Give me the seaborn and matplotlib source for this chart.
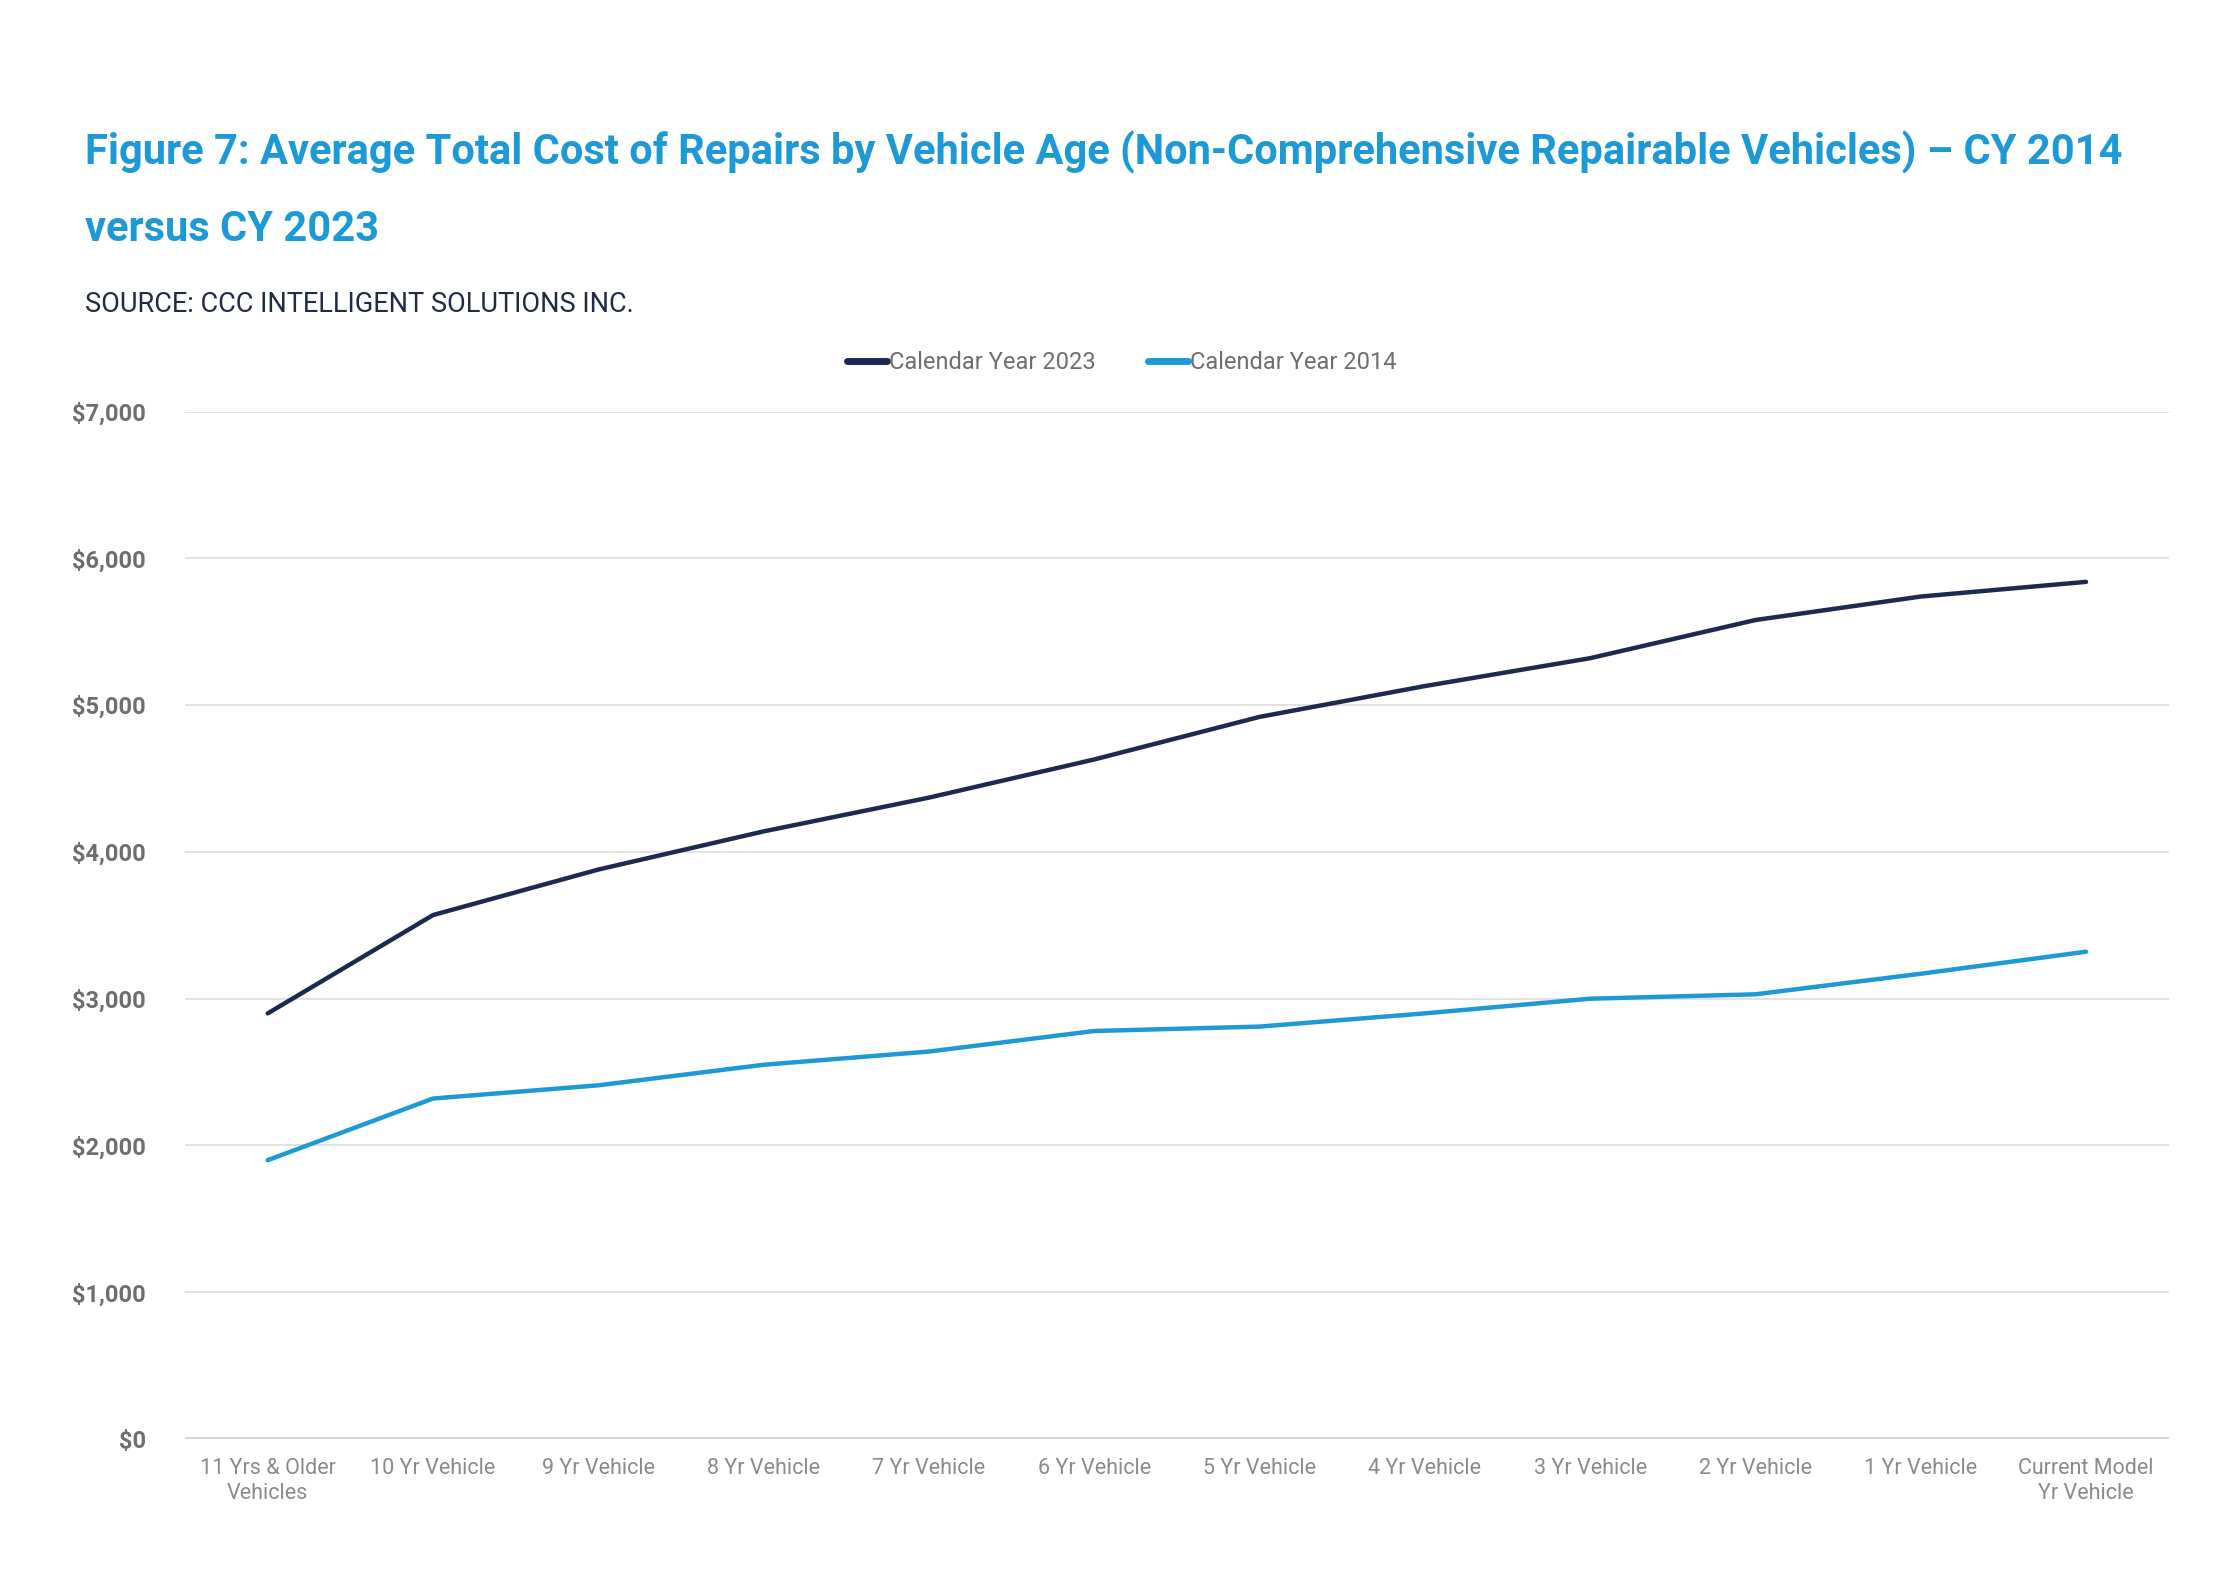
import pandas as pd
import matplotlib.pyplot as plt
import seaborn as sns
from matplotlib.ticker import FuncFormatter

# values
ages = ['11 Yrs & Older\nVehicles', '10 Yr Vehicle', '9 Yr Vehicle', '8 Yr Vehicle',
        '7 Yr Vehicle', '6 Yr Vehicle', '5 Yr Vehicle', '4 Yr Vehicle',
        '3 Yr Vehicle', '2 Yr Vehicle', '1 Yr Vehicle', 'Current Model\nYr Vehicle']
cost_2023 = [2900, 3570, 3880, 4140, 4370, 4630, 4920, 5130, 5320, 5580, 5740, 5840]
cost_2014 = [1900, 2320, 2410, 2550, 2640, 2780, 2810, 2900, 3000, 3030, 3170, 3320]
series_names = ['Calendar Year 2023', 'Calendar Year 2014']
y_ticks = [0, 1000, 2000, 3000, 4000, 5000, 6000, 7000]

df = pd.DataFrame({
    'Age': ages * 2,
    'Cost': cost_2023 + cost_2014,
    'Series': [series_names[0]] * len(ages) + [series_names[1]] * len(ages),
})
df['pos'] = list(range(len(ages))) * 2

sns.set_theme(style="white")
plt.rcParams['font.family'] = ['Roboto', 'DejaVu Sans']

fig = plt.figure(figsize=(22.3, 15.71), dpi=100)
ax = fig.add_axes([0.083, 0.084, 0.8895, 0.654])

palette = {series_names[0]: '#1b2a4e', series_names[1]: '#1d9ad6'}
sns.lineplot(data=df, x='pos', y='Cost', hue='Series', palette=palette,
             linewidth=3.2, ax=ax, legend=False)

ax.set_ylim(0, 7000)
ax.set_xlim(-0.5, len(ages) - 0.5)
ax.set_yticks(y_ticks)
ax.yaxis.set_major_formatter(FuncFormatter(lambda v, p: f'${v:,.0f}'))
ax.set_xticks(range(len(ages)))
ax.set_xticklabels(ages, color='#8a8a8a', fontsize=15.5, linespacing=1.2)
for lab in ax.get_yticklabels():
    lab.set_color('#6e6e6e')
    lab.set_fontsize(17)
    lab.set_fontweight('bold')
ax.tick_params(axis='y', length=0, pad=28)
ax.tick_params(axis='x', length=0, pad=14)

ax.grid(axis='y', color='#e2e2e2', linewidth=1.4)
ax.grid(axis='x', visible=False)
ax.axhline(0, color='#d6d6d6', linewidth=3, zorder=1)
for s in ax.spines.values():
    s.set_visible(False)
ax.set_xlabel('')
ax.set_ylabel('')

# legend
handles = [plt.Line2D([], [], color=palette[n], linewidth=5) for n in series_names]
fig.legend(handles, series_names, loc='center', bbox_to_anchor=(0.503, 0.769),
           ncol=2, frameon=False, fontsize=17, handlelength=1.7, handletextpad=0.1,
           columnspacing=2.2, labelcolor='#6e6e6e')

# titles
fig.text(0.038, 0.903, 'Figure 7: Average Total Cost of Repairs by Vehicle Age '
         '(Non-Comprehensive Repairable Vehicles) \u2013 CY 2014',
         color='#1d9ad6', fontsize=30, fontweight='bold', va='center')
fig.text(0.038, 0.854, 'versus CY 2023', color='#1d9ad6', fontsize=30,
         fontweight='bold', va='center')
fig.text(0.038, 0.806, 'SOURCE: CCC INTELLIGENT SOLUTIONS INC.', color='#1f2a44',
         fontsize=19.5, va='center')

fig.savefig('out.png', dpi=100, facecolor='white')
